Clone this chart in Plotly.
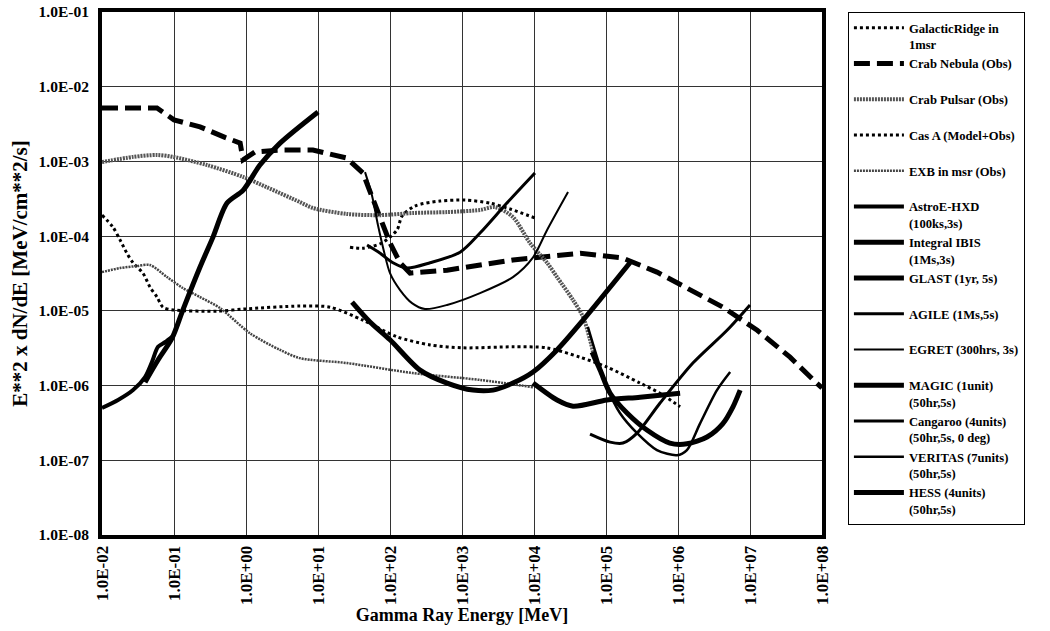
import plotly.graph_objects as go

# ---------------- data (Energy in MeV, E^2 dN/dE in MeV/cm^2/s) ----------------
ridge_E = [27.8, 42, 77, 125, 147, 222, 495, 1100, 2450, 4640, 10300]
ridge_F = [7.1e-5, 6.9e-5, 8.1e-5, 1.21e-4, 1.86e-4, 2.53e-4, 2.95e-4, 3.04e-4, 2.77e-4, 2.31e-4, 1.75e-4]

nebula_E = [0.01, 0.058, 0.1, 0.23, 0.51, 0.83, 0.91, 1.33, 2.95, 8.5, 25, 42, 52, 72, 100, 138, 190,
            620, 5100, 44000, 170000, 510000, 1.5e6, 4.2e6, 1.26e7, 3.6e7, 8.5e7, 1e8]
nebula_F = [5.2e-3, 5.2e-3, 3.6e-3, 2.9e-3, 2.1e-3, 1.76e-3, 1.05e-3, 1.34e-3, 1.42e-3, 1.42e-3, 1.11e-3,
            7.0e-4, 4.1e-4, 1.8e-4, 8.1e-5, 4.4e-5, 3.2e-5, 3.5e-5, 4.8e-5, 5.9e-5, 5.1e-5, 3.3e-5,
            1.9e-5, 1.12e-5, 5.5e-6, 2.4e-6, 1.07e-6, 9.3e-7]

pulsar_E = [0.01, 0.027, 0.058, 0.097, 0.287, 0.91, 1.96, 5.6, 8.5, 25.3, 73, 208, 620, 1780, 2870,
            5100, 8800, 15200, 20900, 34800, 48000, 60000, 70000]
pulsar_F = [9.8e-4, 1.15e-3, 1.22e-3, 1.15e-3, 8.95e-4, 6.2e-4, 4.5e-4, 2.86e-4, 2.38e-4, 1.98e-4,
            1.91e-4, 2.04e-4, 2.1e-4, 2.24e-4, 2.45e-4, 1.8e-4, 8.1e-5, 4.4e-5, 2.83e-5, 1.4e-5,
            8.3e-6, 4.1e-6, 2.2e-6]

casa_E = [0.01, 0.0142, 0.0178, 0.0222, 0.027, 0.037, 0.0465, 0.058, 0.0703, 0.097, 0.395, 0.97, 5.6,
          14.7, 42, 125, 360, 1030, 5100, 15000, 43500, 103000, 297000, 560000, 1.07e6]
casa_F = [1.91e-4, 1.32e-4, 8.9e-5, 5.9e-5, 4.4e-5, 3.2e-5, 2.08e-5, 1.53e-5, 1.12e-5, 1.03e-5, 9.9e-6,
          1.06e-5, 1.16e-5, 1.12e-5, 7.5e-6, 4.5e-6, 3.5e-6, 3.2e-6, 3.3e-6, 3.2e-6, 2.4e-6, 1.77e-6,
          1.08e-6, 7.9e-7, 5.2e-7]

exb_E = [0.01, 0.0178, 0.0306, 0.0465, 0.08, 0.133, 0.23, 0.435, 1.14, 2.97, 5.6, 25.3, 208, 1780, 9700]
exb_F = [3.3e-5, 3.74e-5, 3.98e-5, 4.1e-5, 2.83e-5, 2.02e-5, 1.53e-5, 1.09e-5, 5.0e-6, 3.0e-6, 2.33e-6,
         2.0e-6, 1.47e-6, 1.19e-6, 9.5e-7]

astroe_E = [0.01, 0.0167, 0.027, 0.0396, 0.0494, 0.06, 0.075, 0.097]
astroe_F = [5.0e-7, 6.4e-7, 8.7e-7, 1.3e-6, 2.07e-6, 3.3e-6, 3.8e-6, 4.6e-6]

ibis_E = [0.0396, 0.06, 0.094, 0.133, 0.23, 0.348, 0.545, 0.91, 1.56, 2.97, 10]
ibis_F = [1.11e-6, 2.2e-6, 4.3e-6, 1.03e-5, 3.86e-5, 9.7e-5, 2.77e-4, 4.1e-4, 8.95e-4, 1.76e-3, 4.6e-3]

glast_E = [29.7, 52.7, 100, 261, 620, 1420, 2700, 5100, 9700, 20900, 48000, 215000]
glast_F = [1.31e-5, 7.1e-6, 4.1e-6, 1.61e-6, 1.08e-6, 8.7e-7, 8.7e-7, 1.08e-6, 1.52e-6, 3.0e-6, 7.5e-6, 4.4e-5]

agile_E = [48, 73, 110, 172, 360, 940, 1780, 4200, 10300]
agile_F = [7.6e-5, 5.9e-5, 4.4e-5, 3.74e-5, 4.4e-5, 6.1e-5, 1.1e-4, 2.77e-4, 7.0e-4]

egret_E = [45, 56, 68, 83, 100, 138, 202, 306, 620, 1780, 5100, 9700, 15200, 29700]
egret_F = [7.2e-4, 3.55e-4, 1.41e-4, 6.1e-5, 3.2e-5, 1.9e-5, 1.27e-5, 1.06e-5, 1.2e-5, 1.73e-5, 2.83e-5,
           5.2e-5, 1.21e-4, 3.9e-4]

magic_E = [9700, 20900, 34800, 103000, 297000, 1.07e6]
magic_F = [1.08e-6, 6.4e-7, 5.3e-7, 6.4e-7, 7.0e-7, 7.9e-7]

cangaroo_E = [60000, 114000, 172000, 270000, 560000, 1.61e6, 4.8e6, 1e7]
cangaroo_F = [2.24e-7, 1.75e-7, 1.7e-7, 2.31e-7, 5.8e-7, 2.0e-6, 5.5e-6, 1.2e-5]

veritas_E = [56000, 75000, 103000, 156000, 270000, 510000, 970000, 1.33e6, 2.02e6, 3.48e6, 5.3e6]
veritas_F = [6.1e-6, 2.4e-6, 9.5e-7, 4.3e-7, 2.31e-7, 1.37e-7, 1.17e-7, 1.37e-7, 3.1e-7, 8.7e-7, 1.52e-6]

hess_E = [64000, 83000, 114000, 196000, 370000, 770000, 1.33e6, 2.53e6, 4.2e6, 5.8e6, 7.3e6]
hess_F = [2.8e-6, 1.61e-6, 7.9e-7, 4.3e-7, 2.54e-7, 1.7e-7, 1.66e-7, 2.05e-7, 3.1e-7, 5.2e-7, 8.7e-7]

x_tickvals = [1e-2, 1e-1, 1e0, 1e1, 1e2, 1e3, 1e4, 1e5, 1e6, 1e7, 1e8]
x_ticktext = ["1.0E-02", "1.0E-01", "1.0E+00", "1.0E+01", "1.0E+02", "1.0E+03",
              "1.0E+04", "1.0E+05", "1.0E+06", "1.0E+07", "1.0E+08"]
y_tickvals = [1e-8, 1e-7, 1e-6, 1e-5, 1e-4, 1e-3, 1e-2, 1e-1]
y_ticktext = ["1.0E-08", "1.0E-07", "1.0E-06", "1.0E-05", "1.0E-04", "1.0E-03", "1.0E-02", "1.0E-01"]

# ---------------- figure ----------------
fig = go.Figure()


def add(name, E, F, width, dash="solid", color="black", shape="spline"):
    fig.add_trace(go.Scatter(
        x=E, y=F, name=name, mode="lines",
        line=dict(color=color, width=width, dash=dash, shape=shape, smoothing=0.8),
    ))


add("GalacticRidge in<br>1msr", ridge_E, ridge_F, 3, dash="dot")
add("Crab Nebula (Obs)<br> ", nebula_E, nebula_F, 5, dash="16px,7px", shape="linear")
add("Crab Pulsar (Obs)<br> ", pulsar_E, pulsar_F, 4, dash="2px,1px", color="#555555")
add("Cas A (Model+Obs)<br> ", casa_E, casa_F, 3, dash="dot")
add("EXB in msr (Obs)<br> ", exb_E, exb_F, 2.5, dash="2px,1px", color="#444444")
add("AstroE-HXD<br>(100ks,3s)", astroe_E, astroe_F, 4)
add("Integral IBIS<br>(1Ms,3s)", ibis_E, ibis_F, 5)
add("GLAST (1yr, 5s)<br> ", glast_E, glast_F, 5)
add("AGILE (1Ms,5s)<br> ", agile_E, agile_F, 3)
add("EGRET (300hrs, 3s)<br> ", egret_E, egret_F, 2)
add("MAGIC (1unit)<br>(50hr,5s)", magic_E, magic_F, 5)
add("Cangaroo (4units)<br>(50hr,5s, 0 deg)", cangaroo_E, cangaroo_F, 3)
add("VERITAS (7units)<br>(50hr,5s)", veritas_E, veritas_F, 2.5)
add("HESS (4units)<br>(50hr,5s)", hess_E, hess_F, 5)

axis_common = dict(
    type="log", showgrid=True, gridcolor="#333333", gridwidth=1,
    showline=True, linecolor="black", linewidth=4, mirror=True,
    ticks="", zeroline=False, automargin=False, ticklabeloverflow="allow",
)

fig.update_xaxes(
    range=[-2, 8], tickvals=x_tickvals, ticktext=x_ticktext, tickangle=-90,
    tickfont=dict(size=17, family="Liberation Serif", color="black", weight="bold"),
    title=dict(text="Gamma Ray Energy [MeV]", standoff=4,
               font=dict(size=18, family="Liberation Serif", color="black", weight="bold")),
    **axis_common,
)
fig.update_yaxes(
    range=[-8, -1], tickvals=y_tickvals, ticktext=y_ticktext,
    tickfont=dict(size=15.5, family="Liberation Serif", color="black", weight="bold"),
    ticklabelstandoff=6,
    title=dict(text="E**2 x dN/dE [MeV/cm**2/s]", standoff=6,
               font=dict(size=21, family="Liberation Serif", color="black", weight="bold")),
    **axis_common,
)

fig.update_layout(
    width=1050, height=631,
    margin=dict(l=102, r=228, t=12, b=96),
    paper_bgcolor="white", plot_bgcolor="white",
    font=dict(family="Liberation Serif", size=13, color="black", weight="bold"),
    showlegend=True,
    legend=dict(
        x=1.036, y=1, xanchor="left", yanchor="top",
        bordercolor="black", borderwidth=1, bgcolor="white",
        font=dict(size=12.6, family="Liberation Serif", color="black", weight="bold"),
        valign="top", itemwidth=50, traceorder="normal",
    ),
)

fig.write_html("out.html", config={"displayModeBar": False},
               post_script="document.body.style.margin='0';")
